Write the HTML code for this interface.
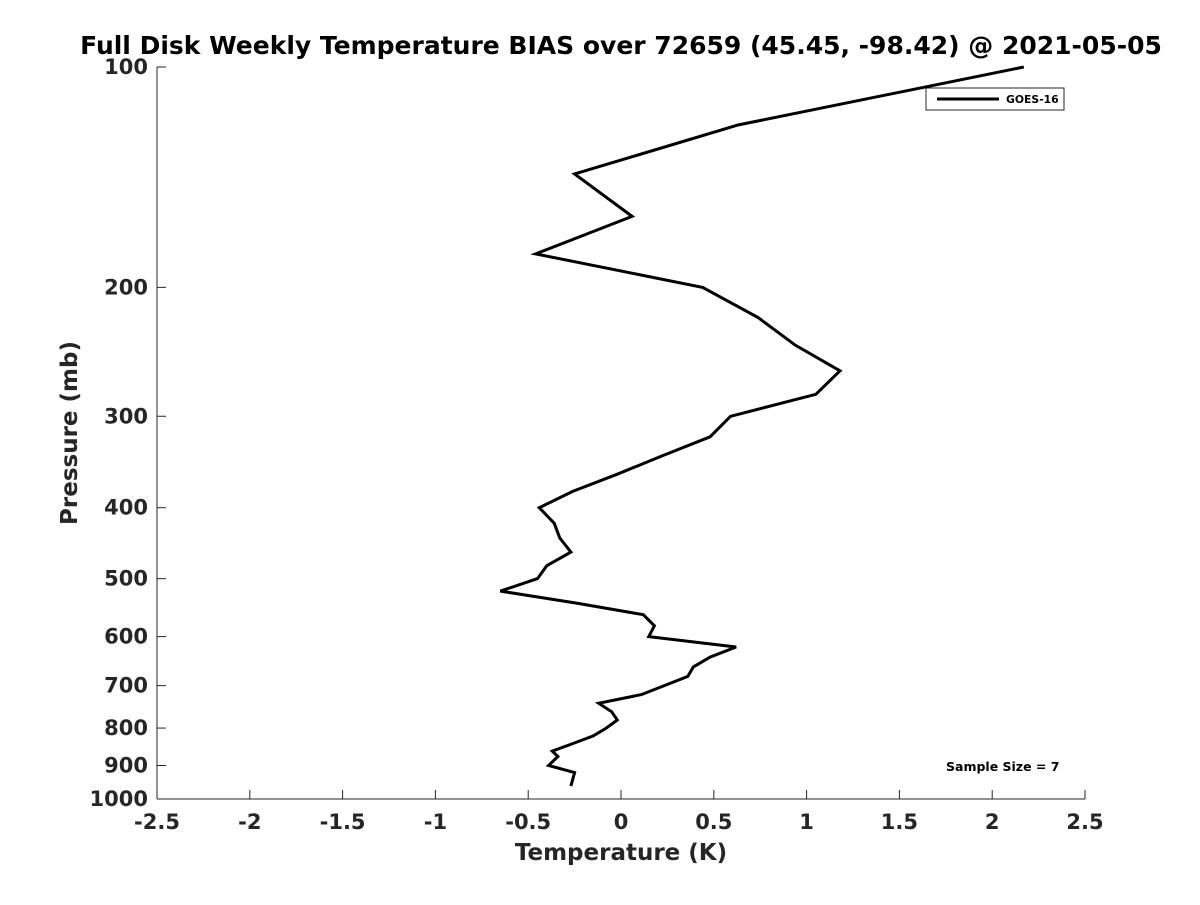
<!DOCTYPE html>
<html><head><meta charset="utf-8"><style>
body{margin:0;background:#fff;}
svg text{font-family:"DejaVu Sans","Liberation Sans",sans-serif;font-weight:bold;fill:#262626;}
</style></head><body>
<svg id="chart" width="1200" height="900" xmlns="http://www.w3.org/2000/svg">
<rect width="1200" height="900" fill="#fff"/>
<text x="621" y="54" font-size="25" text-anchor="middle" style="fill:#000">Full Disk Weekly Temperature BIAS over 72659 (45.45, -98.42) @ 2021-05-05</text>
<g id="axes"></g>
<text x="621" y="860" font-size="23" text-anchor="middle">Temperature (K)</text>
<text transform="translate(77,433) rotate(-90)" font-size="23" text-anchor="middle">Pressure (mb)</text>
<g>
<rect x="926" y="88" width="138" height="22" fill="#fff" stroke="#262626" stroke-width="1"/>
<line x1="937" y1="99" x2="999" y2="99" stroke="#000" stroke-width="3"/>
<text x="1006" y="103" font-size="10.8" style="fill:#000">GOES-16</text>
</g>
<text x="946" y="771" font-size="12.5" style="fill:#000">Sample Size = 7</text>
</svg>
<script>
const xTicks=[-2.5,-2,-1.5,-1,-0.5,0,0.5,1,1.5,2,2.5];
const yTicks=[100,200,300,400,500,600,700,800,900,1000];
const pressures=[100,120,140,160,180,200,220,240,260,280,300,320,340,360,380,400,420,440,460,480,500,520,540,560,580,600,620,640,660,680,720,740,760,780,800,820,840,860,875,900,920,960];
const bias=[2.17,0.63,-0.25,0.06,-0.46,0.44,0.74,0.94,1.18,1.05,0.59,0.48,0.22,-0.02,-0.26,-0.44,-0.36,-0.33,-0.27,-0.40,-0.45,-0.65,-0.24,0.12,0.18,0.15,0.62,0.48,0.39,0.36,0.11,-0.12,-0.05,-0.02,-0.08,-0.15,-0.26,-0.37,-0.34,-0.39,-0.25,-0.27];
const X0=157,X1=1085,Y0=67,Y1=799;
const xs=v=>X0+(v+2.5)/5*(X1-X0);
const ys=p=>Y0+Math.log10(p/100)*(Y1-Y0);
const NS='http://www.w3.org/2000/svg';
const svg=document.getElementById('chart');
const g=document.getElementById('axes');
function mk(t,a){const e=document.createElementNS(NS,t);for(const k in a)e.setAttribute(k,a[k]);return e;}
let ax=mk('line',{x1:X0,y1:Y1,x2:X1,y2:Y1,stroke:'#262626','stroke-width':1});


g.appendChild(ax);
let ay=mk('line',{x1:X0,y1:Y0,x2:X0,y2:Y1,stroke:'#262626','stroke-width':1});


g.appendChild(ay);
xTicks.forEach(v=>{
 const x=xs(v);
 g.appendChild(mk('line',{x1:x,y1:Y1,x2:x,y2:Y1-9,stroke:'#262626'}));
 const t=mk('text',{x:x,y:Y1+30,'font-size':21,'text-anchor':'middle'});
 t.textContent=String(v);
 
 
 g.appendChild(t);
});
yTicks.forEach(p=>{
 const y=ys(p);
 g.appendChild(mk('line',{x1:X0,y1:y,x2:X0+9,y2:y,stroke:'#262626'}));
 const t=mk('text',{x:148,y:y+7,'font-size':21,'text-anchor':'end'});
 t.textContent=String(p);
 
 
 g.appendChild(t);
});
const pts=pressures.map((p,i)=>xs(bias[i]).toFixed(1)+','+ys(p).toFixed(1)).join(' ');
const line=mk('polyline',{points:pts,fill:'none',stroke:'#000','stroke-width':3,'stroke-linejoin':'miter'});


svg.appendChild(line);
</script>
</body></html>
